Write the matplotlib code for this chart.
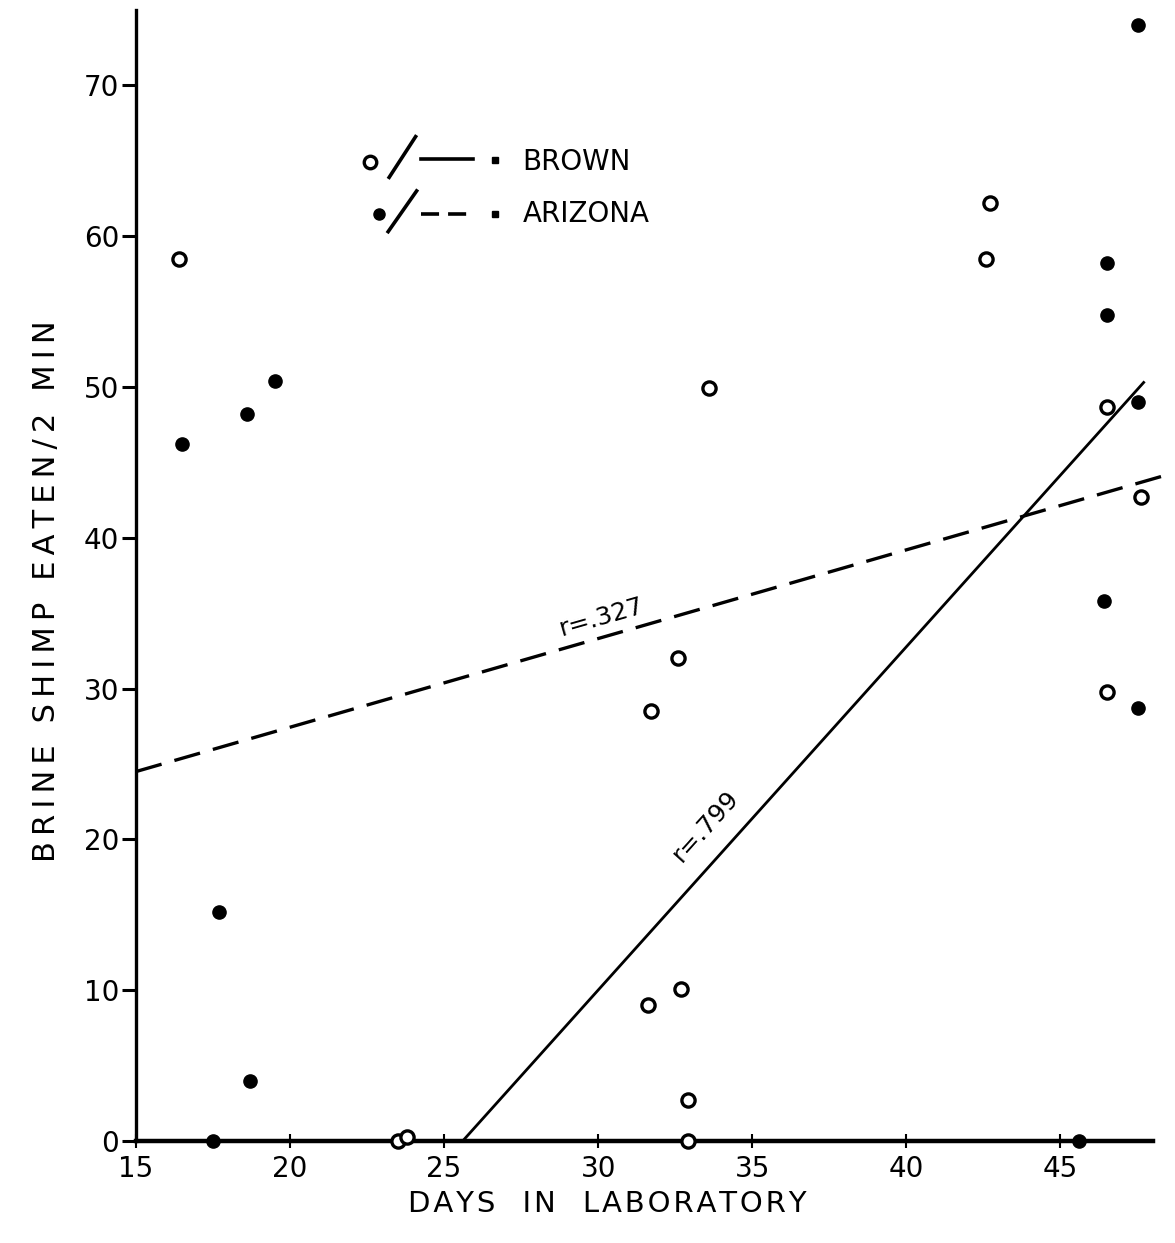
import matplotlib.pyplot as plt

# brown (open circles) and arizona (filled dots)
brown_days = [16.4, 23.5, 23.8, 31.6, 31.7, 32.6, 32.7, 32.9, 32.9, 33.6, 42.6, 42.7, 46.5, 47.6, 46.5]
brown_eaten = [58.5, 0, 0.3, 9.0, 28.5, 32.0, 10.1, 2.7, 0, 49.9, 58.5, 62.2, 48.7, 42.7, 29.8]

arizona_days = [16.5, 18.6, 19.5, 17.7, 18.7, 17.5, 45.6, 47.5, 46.5, 46.5, 47.5, 46.4, 47.5]
arizona_eaten = [46.2, 48.2, 50.4, 15.2, 4.0, 0, 0, 74.0, 58.2, 54.8, 49.0, 35.8, 28.7]

# fitted lines (end points as drawn)
brown_fit_x = [25.6, 47.7]
brown_fit_y = [0, 50.3]
arizona_fit_x = [15, 48.5]
arizona_fit_y = [24.5, 44.2]

x_ticks = [15, 20, 25, 30, 35, 40, 45]
y_ticks = [0, 10, 20, 30, 40, 50, 60, 70]

x_title = 'DAYS  IN  LABORATORY'
y_title = 'BRINE SHIMP EATEN/2 MIN'

plt.rcParams['font.family'] = ['DejaVu Sans']

fig = plt.figure(figsize=(11.75, 12.43), dpi=100)
ax = fig.add_axes([0.1157, 0.082, 0.8655, 0.910])

ax.plot(brown_days, brown_eaten, 'o', ms=9.5, mfc='white', mec='black', mew=2.4, clip_on=False, zorder=3)
ax.plot(arizona_days, arizona_eaten, 'o', ms=9.5, color='black', clip_on=False, zorder=3)

ax.plot(brown_fit_x, brown_fit_y, '-', color='black', lw=2.0)
ax.plot(arizona_fit_x, arizona_fit_y, color='black', lw=2.4, linestyle=(0, (8, 4)), clip_on=False)

ax.text(30.1, 34.7, 'r=.327', fontsize=18, rotation=16, ha='center', va='center')
ax.text(33.5, 20.9, 'r=.799', fontsize=18, rotation=48, ha='center', va='center')

ax.set_xlim(15, 48)
ax.set_ylim(0, 75)
ax.set_xticks(x_ticks)
ax.set_yticks(y_ticks)

for s in ['top', 'right']:
    ax.spines[s].set_visible(False)
ax.spines['left'].set_linewidth(2.4)
ax.spines['bottom'].set_linewidth(3.2)

ax.tick_params(axis='y', direction='out', length=10, width=2.2, labelsize=20, pad=2)
ax.tick_params(axis='x', direction='inout', length=10, width=1.5, labelsize=20, pad=5)

# hand-lettered legend
tr = ax.transAxes
ax.plot([0.230], [0.866], 'o', transform=tr, ms=9, mfc='white', mec='black', mew=2.4)
ax.plot([0.249, 0.275], [0.852, 0.888], transform=tr, color='black', lw=2.6)
ax.plot([0.280, 0.331], [0.868, 0.868], transform=tr, color='black', lw=2.6)
ax.plot([0.353], [0.867], 's', transform=tr, ms=5, color='black')
ax.text(0.380, 0.866, 'BROWN', transform=tr, fontsize=20, ha='left', va='center')

ax.plot([0.239], [0.820], 'o', transform=tr, ms=8, color='black')
ax.plot([0.248, 0.276], [0.804, 0.840], transform=tr, color='black', lw=2.6)
ax.plot([0.280, 0.331], [0.820, 0.820], transform=tr, color='black', lw=2.6, linestyle=(0, (5, 2.5)))
ax.plot([0.353], [0.820], 's', transform=tr, ms=5, color='black')
ax.text(0.380, 0.820, 'ARIZONA', transform=tr, fontsize=20, ha='left', va='center')

# the lettering in the scan is widely spaced
fig.text(0.517, 0.031, '\u200a'.join(x_title), fontsize=21, ha='center', va='center')
fig.text(0.040, 0.524, '\u2009'.join(y_title), fontsize=22, rotation=90, ha='center', va='center')

fig.savefig('out.png', dpi=100)
